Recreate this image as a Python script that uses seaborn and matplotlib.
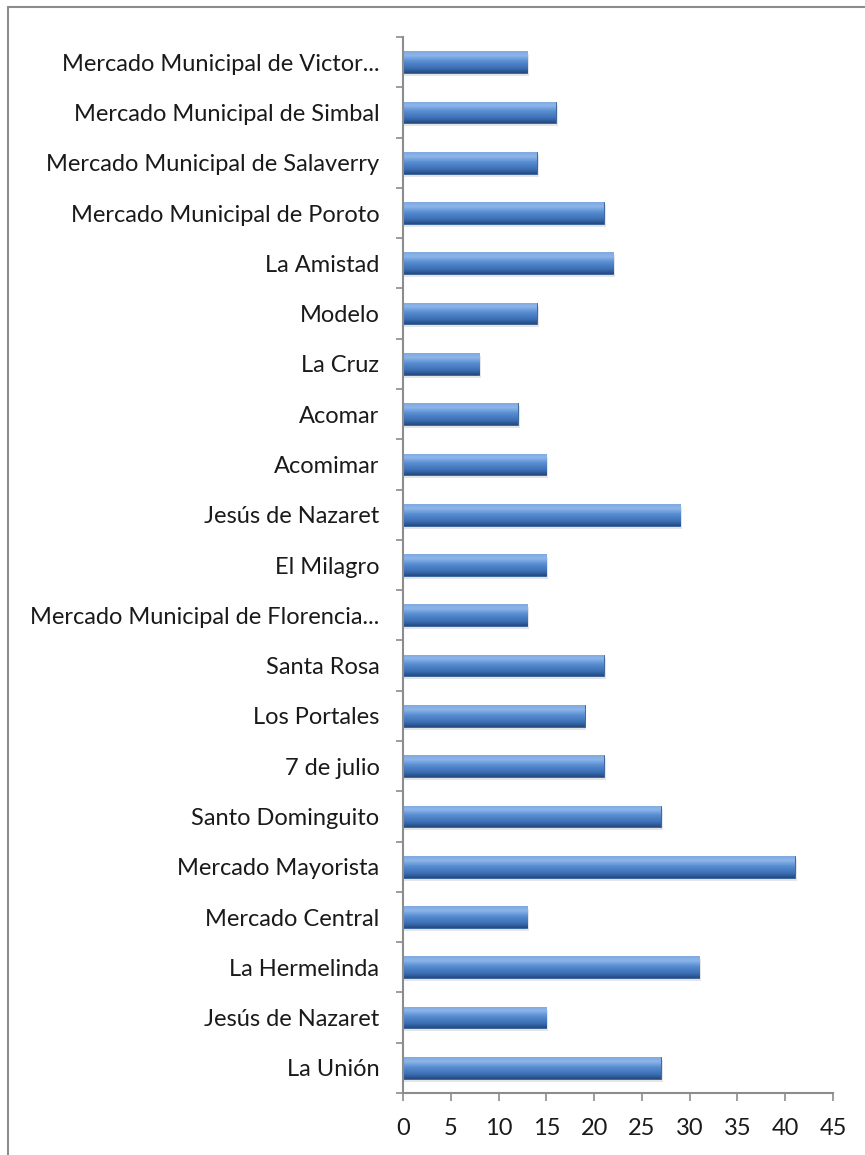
import matplotlib
matplotlib.use("Agg")
import matplotlib.pyplot as plt
import seaborn as sns
import numpy as np
import pandas as pd
from matplotlib.colors import LinearSegmentedColormap
from matplotlib.lines import Line2D

mercados = [
    "Mercado Municipal de Victor...",
    "Mercado Municipal de Simbal",
    "Mercado Municipal de Salaverry",
    "Mercado Municipal de Poroto",
    "La Amistad",
    "Modelo",
    "La Cruz",
    "Acomar",
    "Acomimar",
    "Jesús de Nazaret",
    "El Milagro",
    "Mercado Municipal de Florencia...",
    "Santa Rosa",
    "Los Portales",
    "7 de julio",
    "Santo Dominguito",
    "Mercado Mayorista",
    "Mercado Central",
    "La Hermelinda",
    "Jesús de Nazaret",
    "La Unión",
]
valores = [13, 16, 14, 21, 22, 14, 8, 12, 15, 29, 15, 13, 21, 19, 21, 27, 41, 13, 31, 15, 27]
x_ticks = [0, 5, 10, 15, 20, 25, 30, 35, 40, 45]

# unique keys (two markets share a name)
claves = [f"{i:02d}" for i in range(len(mercados))]
df = pd.DataFrame({"clave": claves, "valor": valores})

sns.set_theme(style="white")
plt.rcParams["font.family"] = ["Lato", "DejaVu Sans"]

W, H = 865, 1155
fig = plt.figure(figsize=(W / 100, H / 100), dpi=100)
ax = fig.add_axes([403 / W, 1 - 1093 / H, 430 / W, (1093 - 37) / H])

sns.barplot(data=df, y="clave", x="valor", orient="h", color="#4F81BD",
            width=0.43, ax=ax, saturation=1, edgecolor="none", order=claves)

# cylinder-like gradient on bars
cmap = LinearSegmentedColormap.from_list(
    "cyl", [(0.0, "#7FA9E0"), (0.2, "#8DB6EA"), (0.45, "#5A8ED3"), (0.8, "#3A6DB2"), (1.0, "#25497F")])
grad = np.linspace(0, 1, 64).reshape(-1, 1)
for p in list(ax.patches):
    x0, y0 = p.get_x(), p.get_y()
    w, h = p.get_width(), p.get_height()
    ax.add_patch(plt.Rectangle((x0, y0 + 0.06), w + 0.2, h, color="#000000", alpha=0.10, zorder=1.5, lw=0))
    im = ax.imshow(grad, cmap=cmap, aspect="auto", extent=(x0, x0 + w, y0 + h, y0),
                   zorder=2.5, interpolation="bilinear")
    im.set_clip_path(p)
    p.set_edgecolor("#2F5C94")
    p.set_linewidth(0.6)
    p.set_zorder(2.4)

ax.set_xlim(0, 45)
ax.set_ylim(len(mercados) - 0.5, -0.5)
ax.set_xticks(x_ticks)
ax.set_xticklabels([str(t) for t in x_ticks], fontsize=17, color="#1a1a1a")
ax.set_yticks(range(len(mercados)))
ax.set_yticklabels(mercados, fontsize=17, color="#1a1a1a")
ax.set_yticks(np.arange(-0.5, len(mercados)), minor=True)
ax.tick_params(axis="y", which="major", left=True, length=0, pad=17)
ax.tick_params(axis="y", which="minor", left=True, length=5, width=1.2, color="#8c8c8c", direction="out")
ax.tick_params(axis="x", which="major", bottom=True, length=6, width=1.2, color="#8c8c8c", direction="out", pad=12)
ax.set_xlabel("")
ax.set_ylabel("")
for s in ["top", "right"]:
    ax.spines[s].set_visible(False)
for s in ["left", "bottom"]:
    ax.spines[s].set_color("#8c8c8c")
    ax.spines[s].set_linewidth(1.5)
ax.grid(False)

# outer chart-area border (left and top visible)
fig.add_artist(Line2D([8 / W, 8 / W], [0, 1 - 7 / H], transform=fig.transFigure, color="#8c8c8c", lw=1.5))
fig.add_artist(Line2D([8 / W, 1], [1 - 7 / H, 1 - 7 / H], transform=fig.transFigure, color="#8c8c8c", lw=1.5))

fig.savefig("out.png", dpi=100, facecolor="white")
